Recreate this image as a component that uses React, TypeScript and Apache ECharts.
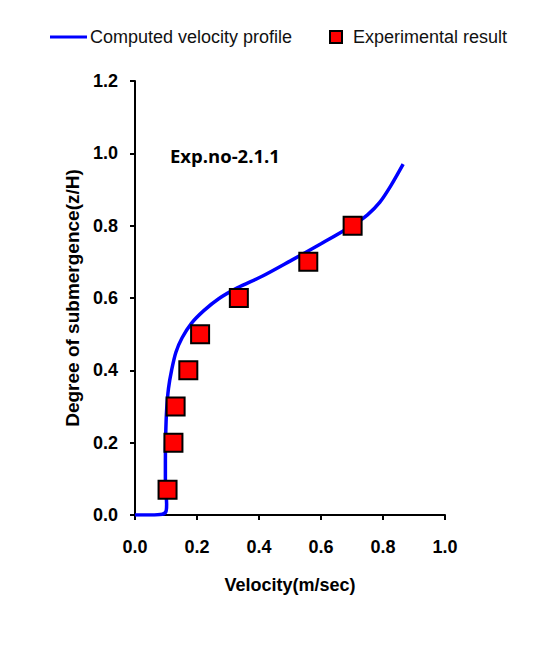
import React, { useEffect, useRef } from "react";
import * as echarts from "echarts";

const curveVelocity = [0, 0.05, 0.088, 0.1, 0.102, 0.1, 0.098, 0.098, 0.099, 0.102, 0.108, 0.118, 0.132, 0.152, 0.182, 0.222, 0.27, 0.33, 0.41, 0.5, 0.6, 0.7, 0.75, 0.79, 0.825, 0.865];
const curveDepth = [0, 0, 0.002, 0.01, 0.03, 0.06, 0.1, 0.15, 0.22, 0.29, 0.35, 0.4, 0.45, 0.49, 0.53, 0.565, 0.598, 0.628, 0.66, 0.702, 0.75, 0.8, 0.83, 0.865, 0.91, 0.97];

const expVelocity = [0.105, 0.124, 0.131, 0.172, 0.21, 0.335, 0.559, 0.702];
const expDepth = [0.07, 0.2, 0.3, 0.4, 0.5, 0.6, 0.7, 0.8];

const xTicks = [0, 0.2, 0.4, 0.6, 0.8, 1.0];
const yTicks = [0, 0.2, 0.4, 0.6, 0.8, 1.0, 1.2];

const LINE_NAME = "Computed velocity profile";
const EXP_NAME = "Experimental result";
const ANNOTATION = "Exp.no-2.1.1";

export default function App() {
  const ref = useRef<HTMLDivElement>(null);
  useEffect(() => {
    document.body.style.margin = "0";
    if (!ref.current) return;
    const chart = echarts.init(ref.current, null, { renderer: "svg" });
    const font = "'Liberation Sans', Arial, sans-serif";
    chart.setOption({
      animation: false,
      backgroundColor: "#fff",
      textStyle: { fontFamily: font },
      legend: [
        {
          data: [{ name: LINE_NAME, icon: "rect" }],
          left: 50,
          top: 28,
          padding: 0,
          itemWidth: 37,
          itemHeight: 3,
          textStyle: { fontSize: 18, color: "#111", fontFamily: font, padding: [0, 0, 0, -2] },
        },
        {
          data: [{ name: EXP_NAME, icon: "rect" }],
          left: 329,
          top: 28,
          padding: 0,
          itemWidth: 12,
          itemHeight: 12,
          textStyle: { fontSize: 18, color: "#111", fontFamily: font, padding: [0, 0, 0, 6] },
        },
      ],
      grid: { left: 135, right: 103, top: 81, bottom: 132, containLabel: false },
      xAxis: {
        type: "value",
        min: xTicks[0],
        max: xTicks[xTicks.length - 1],
        interval: 0.2,
        name: "Velocity(m/sec)",
        nameLocation: "middle",
        nameGap: 61,
        nameTextStyle: { fontSize: 18, fontWeight: "bold", color: "#000", fontFamily: font },
        axisLine: { show: true, lineStyle: { color: "#000", width: 2 } },
        axisTick: { show: true, length: 5, lineStyle: { color: "#000", width: 2 } },
        axisLabel: {
          fontSize: 18,
          fontWeight: "bold",
          color: "#000",
          margin: 23,
          formatter: (v: number) => v.toFixed(1),
        },
        splitLine: { show: false },
      },
      yAxis: {
        type: "value",
        min: yTicks[0],
        max: yTicks[yTicks.length - 1],
        interval: 0.2,
        name: "Degree of submergence(z/H)",
        nameLocation: "middle",
        nameGap: 53,
        nameTextStyle: { fontSize: 19, fontWeight: "bold", color: "#000", fontFamily: font },
        axisLine: { show: true, lineStyle: { color: "#000", width: 2 } },
        axisTick: { show: true, length: 5, lineStyle: { color: "#000", width: 2 } },
        axisLabel: {
          fontSize: 18,
          fontWeight: "bold",
          color: "#000",
          margin: 17,
          formatter: (v: number) => v.toFixed(1),
        },
        splitLine: { show: false },
      },
      graphic: [
        {
          type: "text",
          left: 170,
          top: 146,
          style: {
            text: ANNOTATION,
            fontFamily: "'Open Sans', sans-serif",
            fontWeight: "bold",
            fontSize: 18.5,
            fill: "#000",
          },
        },
      ],
      series: [
        {
          name: LINE_NAME,
          type: "line",
          data: curveVelocity.map((v, i) => [v, curveDepth[i]]),
          smooth: 0.3,
          symbol: "none",
          lineStyle: { color: "#0000ff", width: 3.5 },
          itemStyle: { color: "#0000ff" },
          z: 2,
        },
        {
          name: EXP_NAME,
          type: "scatter",
          data: expVelocity.map((v, i) => [v, expDepth[i]]),
          symbol: "rect",
          symbolSize: 18,
          itemStyle: { color: "#ff0000", borderColor: "#000", borderWidth: 2, opacity: 1 },
          z: 3,
        },
      ],
    });
    return () => chart.dispose();
  }, []);
  return <div ref={ref} style={{ width: 548, height: 647 }} />;
}
